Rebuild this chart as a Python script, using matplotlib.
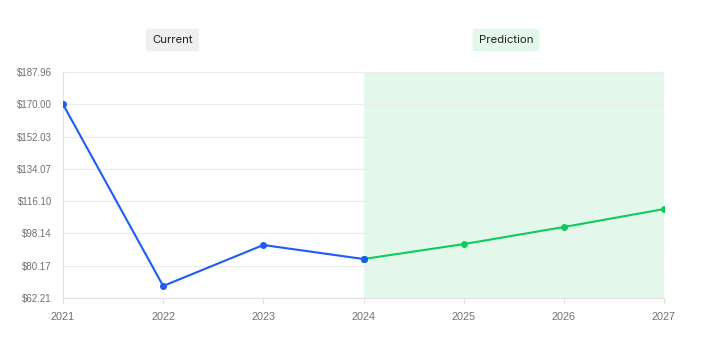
import numpy as np
from matplotlib import pyplot as plt

years = [2021, 2022, 2023, 2024, 2025, 2026, 2027]
current_years = [2021, 2022, 2023, 2024]
current_values = [170.00, 68.9, 91.7, 83.9]
pred_years = [2024, 2025, 2026, 2027]
pred_values = [83.9, 92.2, 101.7, 111.7]
y_ticks = [62.21, 80.17, 98.14, 116.10, 134.07, 152.03, 170.00, 187.96]

BLUE = "#1d5cf5"
GREEN = "#0ecb5c"
SHADE = "#e3f8eb"
GRID = "#ececec"
TEXT = "#707070"

plt.rcParams["font.family"] = ["Liberation Sans", "DejaVu Sans"]

fig = plt.figure(figsize=(7.04, 3.51), dpi=100)
ax = fig.add_axes([63 / 704, 53 / 351, 601 / 704, 226 / 351])

ax.axvspan(pred_years[0], pred_years[-1], color=SHADE, zorder=0, lw=0)
ax.plot(current_years, current_values, color=BLUE, lw=1.5, marker="o", ms=4, zorder=3)
ax.plot(pred_years, pred_values, color=GREEN, lw=1.5, marker="o", ms=4, zorder=3)
# the 2024 point is drawn blue on top
ax.plot([current_years[-1]], [current_values[-1]], color=BLUE, marker="o", ms=4, zorder=4)

ax.set_xlim(years[0], years[-1])
ax.set_ylim(y_ticks[0], y_ticks[-1])
ax.set_xticks(years)
ax.set_xticklabels([str(y) for y in years])
ax.set_yticks(y_ticks)
ax.set_yticklabels([f"${v:.2f}" for v in y_ticks])
ax.grid(axis="y", color=GRID, lw=0.8)
ax.set_axisbelow(True)

for side in ["top", "right"]:
    ax.spines[side].set_visible(False)
for side in ["left", "bottom"]:
    ax.spines[side].set_color("#e2e2e2")
ax.tick_params(axis="y", length=0, labelsize=7, colors=TEXT, pad=8)
ax.tick_params(axis="x", length=4, color="#e2e2e2", labelsize=7.8, colors=TEXT, pad=6)

fig.text(172.5 / 704, 1 - 40 / 351, "Current", ha="center", va="center", fontsize=8.2,
         color="#222222", family=["Inter", "DejaVu Sans"],
         bbox=dict(boxstyle="round,pad=0.55,rounding_size=0.3", fc="#efefef", ec="none"))
fig.text(506 / 704, 1 - 40 / 351, "Prediction", ha="center", va="center", fontsize=8.2,
         color="#222222", family=["Inter", "DejaVu Sans"],
         bbox=dict(boxstyle="round,pad=0.55,rounding_size=0.3", fc="#e3f8eb", ec="none"))

fig.savefig("out.png", dpi=100)
